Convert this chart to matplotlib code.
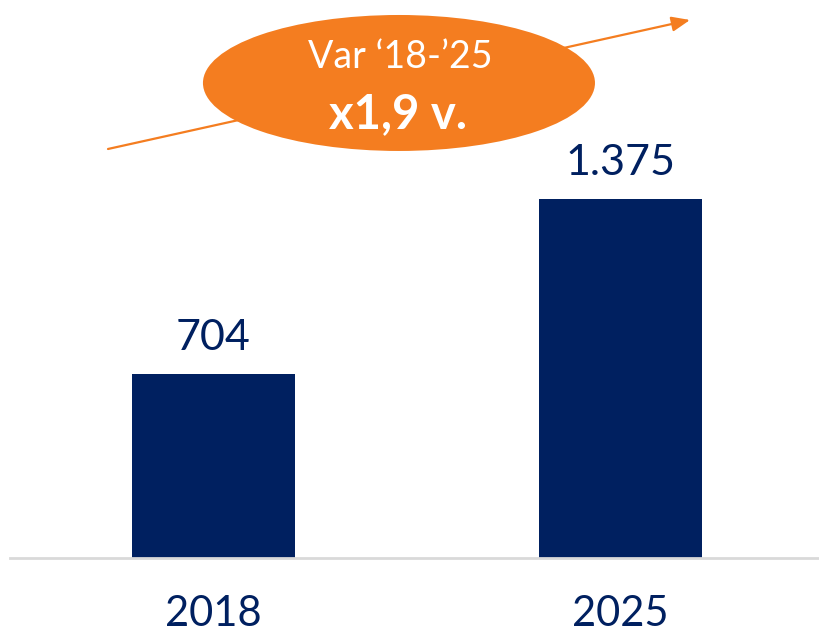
import matplotlib
matplotlib.use("Agg")
import matplotlib.pyplot as plt
from matplotlib.patches import Ellipse

plt.rcParams['font.family'] = ['Lato', 'DejaVu Sans']

years = ["2018", "2025"]
values = [704, 1375]
value_labels = ["704", "1.375"]
badge_title = "Var \u201818-\u201925"
badge_value = "x1,9 v."

navy = "#002060"
orange = "#F47D20"

fig = plt.figure(figsize=(8.2, 6.33), dpi=100)
ax = fig.add_axes([10 / 820, 75 / 633, 810 / 820, 558 / 633])

x = list(range(len(years)))
bars = ax.bar(x, values, width=0.4, color=navy, zorder=2)

for xi, v, lab in zip(x, values, value_labels):
    ax.annotate(lab, (xi, v), xytext=(0, 17), textcoords="offset points",
                ha="center", va="baseline", fontsize=31, color=navy)

ax.set_xticks(x)
ax.set_xticklabels(years, fontsize=30, color=navy)
ax.tick_params(axis="x", length=0, pad=27)
ax.set_yticks([])
ax.set_xlim(-0.5, 1.49)
ax.set_ylim(0, 2135)

for s in ["top", "right", "left"]:
    ax.spines[s].set_visible(False)
ax.spines["bottom"].set_color("#D9D9D9")
ax.spines["bottom"].set_linewidth(2)

# growth arrow
ax.annotate("", xy=(0.8395, 0.9642), xytext=(0.121, 0.733),
            xycoords="axes fraction", textcoords="axes fraction",
            arrowprops=dict(arrowstyle="-|>,head_length=1.1,head_width=0.45",
                            color=orange, lw=1.6, shrinkA=0, shrinkB=0),
            annotation_clip=False)

# badge
ell = Ellipse((0.4802, 0.8513), 0.484, 0.2437, transform=ax.transAxes,
              facecolor=orange, edgecolor="none", zorder=3, clip_on=False)
ax.add_patch(ell)
ax.text(0.4815, 0.898, badge_title, transform=ax.transAxes, ha="center",
        va="center", fontsize=27, color="white", zorder=4)
ax.text(0.479, 0.795, badge_value, transform=ax.transAxes, ha="center",
        va="center", fontsize=34, color="white", fontweight="bold", zorder=4)

fig.savefig("out.png", dpi=100)
